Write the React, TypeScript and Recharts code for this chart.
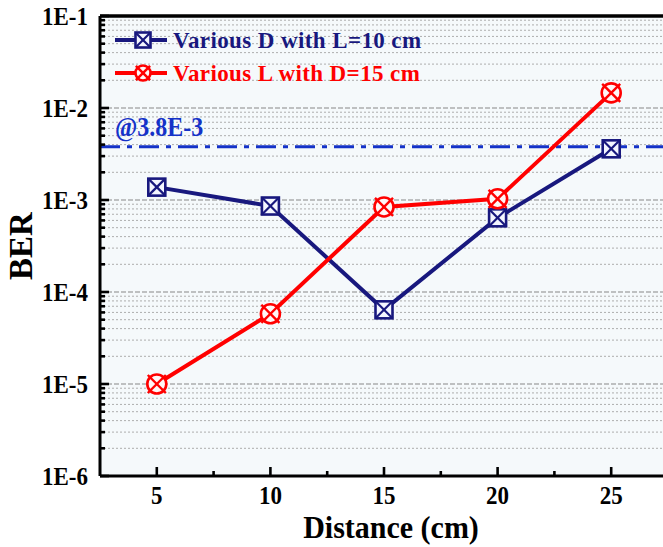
import React from 'react';
import { LineChart, Line, XAxis, YAxis, CartesianGrid, ReferenceLine, Legend } from 'recharts';

const distances = [5, 10, 15, 20, 25];
const variousD = [1.38e-3, 8.6e-4, 6.4e-5, 6.4e-4, 3.6e-3];
const variousL = [1.0e-5, 5.8e-5, 8.4e-4, 1.03e-3, 1.46e-2];
const threshold = 3.8e-3;
const thresholdLabel = '@3.8E-3';
const yMajorTicks = [1e-6, 1e-5, 1e-4, 1e-3, 1e-2, 1e-1];
const yMinorMultipliers = [2, 3, 4, 5, 6, 7, 8, 9];
const xMajorTicks = [5, 10, 15, 20, 25];
const xMinorTicks = [7.5, 12.5, 17.5, 22.5];
const seriesNames = ['Various D with L=10 cm', 'Various L with D=15 cm'];
const seriesColors = ['#18187e', '#ff0000'];
const seriesMarkers = ['square', 'circle'];

const FONT = '"Liberation Serif", "Times New Roman", serif';

const data = distances.map((d, i) => ({ d, D: variousD[i], L: variousL[i] }));

const yMinorTicks: number[] = [];
yMajorTicks.slice(0, -1).forEach((m) => yMinorMultipliers.forEach((k) => yMinorTicks.push(m * k)));
const yAllTicks = [...yMajorTicks, ...yMinorTicks].sort((a, b) => a - b);
const xAllTicks = [...xMajorTicks, ...xMinorTicks].sort((a, b) => a - b);

const isMajorY = (v: number) => Math.abs(Math.log10(v) - Math.round(Math.log10(v))) < 1e-6;

const fmtY = (v: number) => `1E${Math.round(Math.log10(v))}`;

function Marker({ type, cx, cy, color, s }: any) {
  if (cx == null || cy == null) return null;
  if (type === 'square') {
    const h = s / 2;
    return (
      <g>
        <rect x={cx - h} y={cy - h} width={s} height={s} fill="#f4f6ff" stroke={color} strokeWidth={2.6} />
        <line x1={cx - h} y1={cy - h} x2={cx + h} y2={cy + h} stroke={color} strokeWidth={2.2} />
        <line x1={cx - h} y1={cy + h} x2={cx + h} y2={cy - h} stroke={color} strokeWidth={2.2} />
      </g>
    );
  }
  const r = s / 2;
  const e = r * 0.95;
  return (
    <g>
      <circle cx={cx} cy={cy} r={r} fill="#fff6f6" stroke={color} strokeWidth={2.6} />
      <line x1={cx - e} y1={cy - e} x2={cx + e} y2={cy + e} stroke={color} strokeWidth={2.4} />
      <line x1={cx - e} y1={cy + e} x2={cx + e} y2={cy - e} stroke={color} strokeWidth={2.4} />
    </g>
  );
}

function StretchText({ x, y, sy, anchor, size, fill, rotate, children }: any) {
  const t = rotate ? `translate(${x},${y}) rotate(${rotate}) scale(1,${sy})` : `translate(${x},${y}) scale(1,${sy})`;
  return (
    <text x={0} y={0} transform={t} textAnchor={anchor} dominantBaseline="central" fontFamily={FONT} fontWeight="bold" fontSize={size} fill={fill}>
      {children}
    </text>
  );
}

function YTick(props: any) {
  const { x, y, payload } = props;
  const v = payload.value;
  const major = isMajorY(v);
  return (
    <g>
      <line x1={x} x2={x + (major ? 9 : 5)} y1={y} y2={y} stroke="#000" strokeWidth={2.6} />
      {major && (
        <StretchText x={x - 12} y={y} sy={1.12} anchor="end" size={23} fill="#000">
          {fmtY(v)}
        </StretchText>
      )}
    </g>
  );
}

function XTick(props: any) {
  const { x, y, payload } = props;
  const v = payload.value;
  const major = xMajorTicks.includes(v);
  return (
    <g>
      <line x1={x} x2={x} y1={y} y2={y - (major ? 9 : 5)} stroke="#000" strokeWidth={2.6} />
      {major && (
        <StretchText x={x} y={y + 20} sy={1.08} anchor="middle" size={23} fill="#000">
          {v}
        </StretchText>
      )}
    </g>
  );
}

function LegendContent() {
  return (
    <svg width={340} height={70} style={{ display: 'block' }}>
      {seriesNames.map((n, i) => {
        const y = 18 + i * 33;
        return (
          <g key={n}>
            <line x1={7} x2={59} y1={y} y2={y} stroke={seriesColors[i]} strokeWidth={3.8} />
            <Marker type={seriesMarkers[i]} cx={35} cy={y} color={seriesColors[i]} s={15} />
            <text x={65} y={y} dominantBaseline="central" fontFamily={FONT} fontWeight="bold" fontSize={23} fill={seriesColors[i]} letterSpacing={0.4}>
              {n}
            </text>
          </g>
        );
      })}
    </svg>
  );
}

export default function App() {
  return (
    <div style={{ position: 'fixed', left: 0, top: 0, width: 663, height: 547, overflow: 'hidden', background: '#fff' }}>
      <LineChart width={680} height={547} data={data} margin={{ top: 16, right: 12, left: 0, bottom: 0 }}>
        <CartesianGrid fill="#f5f9fb" horizontal={false} vertical={false} />
        {yMinorTicks.map((v) => (
          <ReferenceLine key={'mn' + v} y={v} stroke="#adadad" strokeWidth={1} strokeDasharray="2 2" />
        ))}
        {yMajorTicks.slice(1, -1).map((v) => (
          <ReferenceLine key={'mj' + v} y={v} stroke="#888" strokeWidth={1.2} strokeDasharray="5 2" />
        ))}
        <ReferenceLine y={yMajorTicks[yMajorTicks.length - 1]} stroke="#000" strokeWidth={3.5} />
        <ReferenceLine
          y={threshold}
          stroke="#1432c8"
          strokeWidth={3}
          strokeDasharray="20 7 5 7"
          label={(p: any) => (
            <StretchText x={(p.viewBox?.x ?? 100) + 15} y={(p.viewBox?.y ?? 147) - 20} sy={1.1} anchor="start" size={24} fill="#1432c8">
              {thresholdLabel}
            </StretchText>
          )}
        />
        <XAxis
          dataKey="d"
          type="number"
          domain={[2.5, 27.5]}
          ticks={xAllTicks}
          interval={0}
          allowDataOverflow
          height={71}
          tickSize={0}
          tickMargin={0}
          tickLine={false}
          axisLine={{ stroke: '#000', strokeWidth: 3 }}
          tick={<XTick />}
          label={(p: any) => {
            const vb = p.viewBox || { x: 100, y: 476, width: 568, height: 71 };
            return (
              <StretchText x={vb.x + vb.width / 2 + 7} y={vb.y + 52} sy={1.05} anchor="middle" size={30} fill="#000">
                Distance (cm)
              </StretchText>
            );
          }}
        />
        <YAxis
          scale="log"
          domain={[1e-6, 1e-1]}
          ticks={yAllTicks}
          interval={0}
          allowDataOverflow
          width={100}
          tickSize={0}
          tickMargin={0}
          tickLine={false}
          axisLine={{ stroke: '#000', strokeWidth: 3 }}
          tick={<YTick />}
          label={(p: any) => {
            const vb = p.viewBox || { x: 0, y: 16, width: 100, height: 460 };
            const cx = vb.x + 21;
            const cy = vb.y + vb.height / 2;
            return (
              <StretchText x={cx} y={cy} rotate={-90} sy={1} anchor="middle" size={33} fill="#000">
                BER
              </StretchText>
            );
          }}
        />
        <Legend
          layout="vertical"
          align="center"
          verticalAlign="middle"
          content={<LegendContent />}
          wrapperStyle={{ position: 'absolute', left: 108, top: 22, width: 340, height: 70 }}
        />
        <Line
          dataKey="D"
          name={seriesNames[0]}
          stroke={seriesColors[0]}
          strokeWidth={4}
          isAnimationActive={false}
          dot={(p: any) => <Marker key={'d' + p.index} type={seriesMarkers[0]} cx={p.cx} cy={p.cy} color={seriesColors[0]} s={17} />}
          activeDot={false}
        />
        <Line
          dataKey="L"
          name={seriesNames[1]}
          stroke={seriesColors[1]}
          strokeWidth={4}
          isAnimationActive={false}
          dot={(p: any) => <Marker key={'l' + p.index} type={seriesMarkers[1]} cx={p.cx} cy={p.cy} color={seriesColors[1]} s={19} />}
          activeDot={false}
        />
      </LineChart>
    </div>
  );
}
